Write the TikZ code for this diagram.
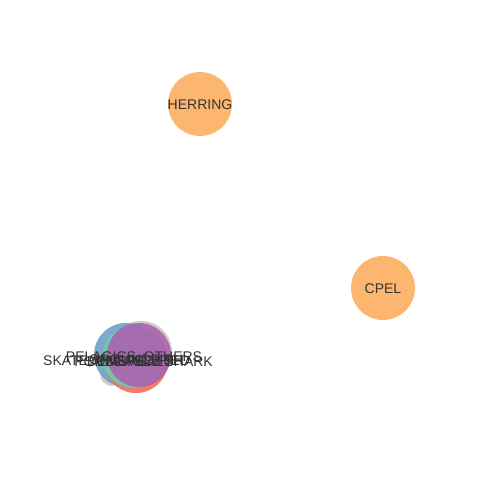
\documentclass[tikz,border=0pt]{standalone}
\usepackage{fontspec}
\setmainfont{Liberation Sans}
\definecolor{orng}{RGB}{253,174,97}
\definecolor{bluec}{RGB}{110,160,200}
\definecolor{tealc}{RGB}{110,200,180}
\definecolor{purpc}{RGB}{170,100,175}
\definecolor{redc}{RGB}{240,110,90}
\definecolor{grayc}{RGB}{200,200,200}
\definecolor{txt}{RGB}{51,51,51}
\begin{document}
\begin{tikzpicture}[x=1pt,y=-1pt,
  bubble/.style={circle,inner sep=0pt,minimum size=#1,fill opacity=0.9},
  lbl/.style={font=\fontsize{14}{15}\selectfont,text=txt,inner sep=0pt}]
\useasboundingbox (0,0) rectangle (480,480);
\node[bubble=64pt,fill=orng] (herring) at (200,104) {};
\node[lbl] at ([yshift=-1pt]herring.center) {HERRING};
\node[bubble=64pt,fill=orng] (cpel) at (383,288) {};
\node[lbl] at ([yshift=-1pt]cpel.center) {CPEL};
% cluster
\node[bubble=24pt,fill=grayc] (g1) at (112,374) {};
\node[bubble=62pt,fill=grayc] (g2) at (141,352) {};
\node[bubble=64pt,fill=bluec] (b1) at (126,355) {};
\node[bubble=64pt,fill=redc] (r1) at (136,361) {};
\node[bubble=62pt,fill=tealc] (t1) at (133,357) {};
\node[bubble=64pt,fill=purpc] (p1) at (139,355) {};
\node[lbl,anchor=west] (l1) at (43,362) {SKATE, UNSPECIFIED};
\node[lbl,anchor=east] (l2) at (213,362) {PORBEAGLE SHARK};
\node[lbl] (l3) at (134,358) {PELAGICS, OTHERS};
\node[lbl] (l5) at (136,360) {GROUNDFISH};
\node[lbl] (l6) at (130,362) {DEMERSALS};
\end{tikzpicture}
\end{document}
